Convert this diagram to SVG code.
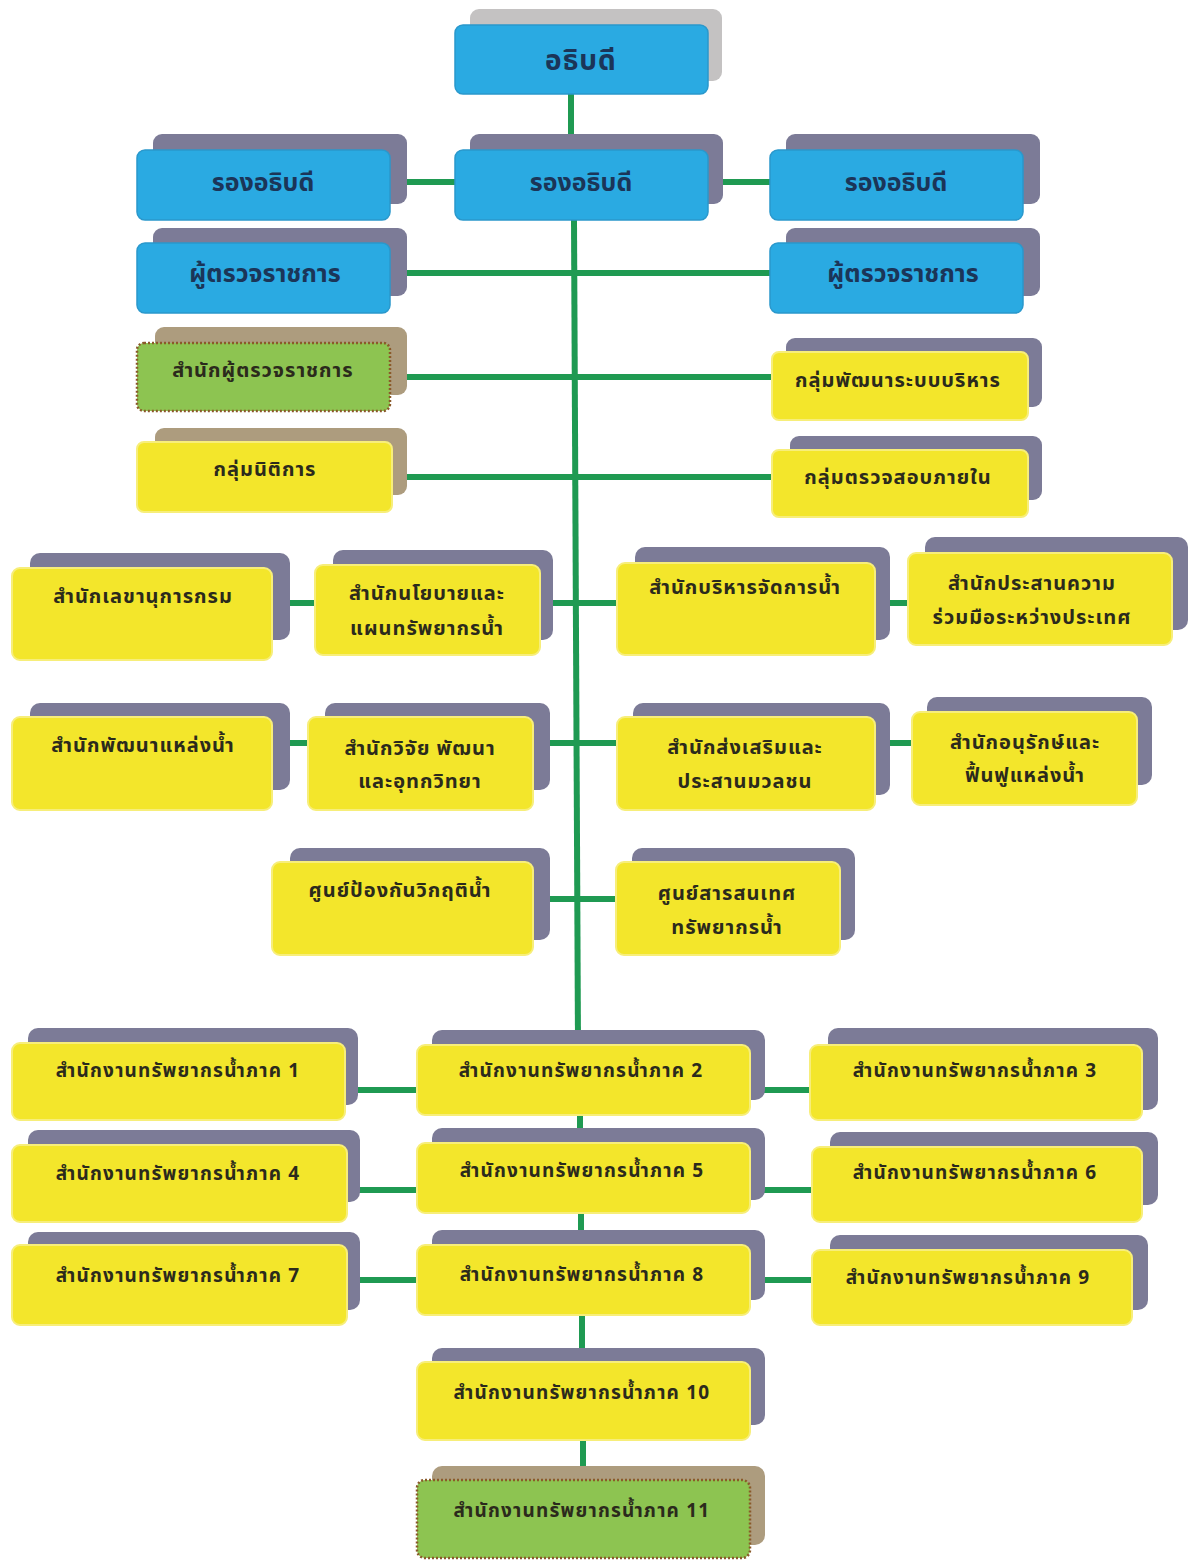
<svg xmlns="http://www.w3.org/2000/svg" width="1194" height="1562" viewBox="0 0 1194 1562">
<defs>
<style>
.bg{fill:#ffffff}
.sh{fill:#7c7b97}
.shg{fill:#c4c2c2}
.shb{fill:#ad9c7e}
.blue{fill:#2aaae2;stroke:#2a98cc;stroke-width:1.5}
.yel{fill:#f3e62b;stroke:#f7ee7a;stroke-width:2}
.grn{fill:#8dc451;stroke:#8a5a2a;stroke-width:2.5;stroke-dasharray:2 2}
.tb{font-family:"Noto Sans Thai","Noto Sans","DejaVu Sans",sans-serif;font-weight:bold;font-size:25px;fill:#1b3558;text-anchor:middle}
.tb1{font-size:28px;letter-spacing:1px}
.ty{font-family:"Noto Sans Thai","Noto Sans","DejaVu Sans",sans-serif;font-weight:bold;font-size:20px;letter-spacing:1px;fill:#2b2a1c;text-anchor:middle}
.tr{font-family:"Noto Sans Thai","Noto Sans","DejaVu Sans",sans-serif;font-weight:bold;font-size:19px;letter-spacing:1.2px;fill:#2b2a1c;text-anchor:middle}
.ln{stroke:#1f9a52;stroke-width:6;fill:none}
</style>
</defs>
<rect class="bg" x="0" y="0" width="1194" height="1562"/>

<g id="connectors">
<line class="ln" x1="571" y1="93" x2="571" y2="152"/>
<line class="ln" x1="574" y1="220" x2="578" y2="1045"/>
<line class="ln" x1="390" y1="182" x2="455" y2="182"/>
<line class="ln" x1="708" y1="182" x2="770" y2="182"/>
<line class="ln" x1="390" y1="273" x2="770" y2="273"/>
<line class="ln" x1="390" y1="377" x2="772" y2="377"/>
<line class="ln" x1="392" y1="477" x2="772" y2="477"/>
<line class="ln" x1="272" y1="603" x2="315" y2="603"/>
<line class="ln" x1="540" y1="603" x2="617" y2="603"/>
<line class="ln" x1="875" y1="603" x2="908" y2="603"/>
<line class="ln" x1="272" y1="743" x2="308" y2="743"/>
<line class="ln" x1="533" y1="743" x2="617" y2="743"/>
<line class="ln" x1="875" y1="743" x2="912" y2="743"/>
<line class="ln" x1="533" y1="899" x2="616" y2="899"/>
<line class="ln" x1="345" y1="1090" x2="417" y2="1090"/>
<line class="ln" x1="750" y1="1090" x2="810" y2="1090"/>
<line class="ln" x1="345" y1="1190" x2="417" y2="1190"/>
<line class="ln" x1="750" y1="1190" x2="812" y2="1190"/>
<line class="ln" x1="345" y1="1280" x2="417" y2="1280"/>
<line class="ln" x1="750" y1="1280" x2="812" y2="1280"/>
<line class="ln" x1="580" y1="1115" x2="580" y2="1145"/>
<line class="ln" x1="581" y1="1212" x2="581" y2="1245"/>
<line class="ln" x1="582" y1="1315" x2="582" y2="1362"/>
<line class="ln" x1="583" y1="1440" x2="583" y2="1480"/>
</g>

<g id="n-director">
<rect class="shg" x="470" y="9" width="252" height="72" rx="9"/>
<rect class="blue" x="455" y="25" width="253" height="69" rx="8"/>
<text class="tb tb1" x="581" y="70">อธิบดี</text>
</g>

<g id="n-deputy-left">
<rect class="sh" x="153" y="134" width="254" height="70" rx="9"/>
<rect class="blue" x="137" y="150" width="253" height="70" rx="8"/>
<text class="tb" x="263" y="191">รองอธิบดี</text>
</g>
<g id="n-deputy-mid">
<rect class="sh" x="470" y="134" width="253" height="70" rx="9"/>
<rect class="blue" x="455" y="150" width="253" height="70" rx="8"/>
<text class="tb" x="581" y="191">รองอธิบดี</text>
</g>
<g id="n-deputy-right">
<rect class="sh" x="786" y="134" width="254" height="70" rx="9"/>
<rect class="blue" x="770" y="150" width="253" height="70" rx="8"/>
<text class="tb" x="896" y="191">รองอธิบดี</text>
</g>

<g id="n-inspector-left">
<rect class="sh" x="153" y="228" width="254" height="68" rx="9"/>
<rect class="blue" x="137" y="243" width="253" height="70" rx="8"/>
<text class="tb" x="265" y="282">ผู้ตรวจราชการ</text>
</g>
<g id="n-inspector-right">
<rect class="sh" x="786" y="228" width="254" height="68" rx="9"/>
<rect class="blue" x="770" y="243" width="253" height="70" rx="8"/>
<text class="tb" x="903" y="282">ผู้ตรวจราชการ</text>
</g>

<g id="n-inspector-office">
<rect class="shb" x="155" y="327" width="252" height="68" rx="9"/>
<rect class="grn" x="137" y="343" width="253" height="68" rx="7"/>
<text class="ty" x="263" y="377">สำนักผู้ตรวจราชการ</text>
</g>
<g id="n-admin-dev">
<rect class="sh" x="786" y="338" width="256" height="69" rx="9"/>
<rect class="yel" x="772" y="352" width="256" height="68" rx="7"/>
<text class="ty" x="898" y="387">กลุ่มพัฒนาระบบบริหาร</text>
</g>

<g id="n-legal">
<rect class="shb" x="155" y="428" width="252" height="67" rx="9"/>
<rect class="yel" x="137" y="442" width="255" height="70" rx="7"/>
<text class="ty" x="265" y="476">กลุ่มนิติการ</text>
</g>
<g id="n-audit">
<rect class="sh" x="790" y="436" width="252" height="64" rx="9"/>
<rect class="yel" x="772" y="450" width="256" height="67" rx="7"/>
<text class="ty" x="898" y="484">กลุ่มตรวจสอบภายใน</text>
</g>

<g id="n-secretariat">
<rect class="sh" x="30" y="553" width="260" height="87" rx="10"/>
<rect class="yel" x="12" y="568" width="260" height="92" rx="8"/>
<text class="ty" x="143" y="603">สำนักเลขานุการกรม</text>
</g>
<g id="n-policy">
<rect class="sh" x="333" y="550" width="220" height="90" rx="10"/>
<rect class="yel" x="315" y="565" width="225" height="90" rx="8"/>
<text class="ty" x="427" y="600">สำนักนโยบายและ</text>
<text class="ty" x="427" y="635">แผนทรัพยากรน้ำ</text>
</g>
<g id="n-water-mgmt">
<rect class="sh" x="635" y="547" width="255" height="93" rx="10"/>
<rect class="yel" x="617" y="563" width="258" height="92" rx="8"/>
<text class="ty" x="745" y="594">สำนักบริหารจัดการน้ำ</text>
</g>
<g id="n-intl">
<rect class="sh" x="925" y="537" width="263" height="93" rx="10"/>
<rect class="yel" x="908" y="553" width="264" height="92" rx="8"/>
<text class="ty" x="1032" y="590">สำนักประสานความ</text>
<text class="ty" x="1032" y="624">ร่วมมือระหว่างประเทศ</text>
</g>

<g id="n-water-source-dev">
<rect class="sh" x="30" y="703" width="260" height="87" rx="10"/>
<rect class="yel" x="12" y="717" width="260" height="93" rx="8"/>
<text class="ty" x="143" y="752">สำนักพัฒนาแหล่งน้ำ</text>
</g>
<g id="n-research">
<rect class="sh" x="325" y="703" width="225" height="87" rx="10"/>
<rect class="yel" x="308" y="717" width="225" height="93" rx="8"/>
<text class="ty" x="420" y="755">สำนักวิจัย พัฒนา</text>
<text class="ty" x="420" y="788">และอุทกวิทยา</text>
</g>
<g id="n-promotion">
<rect class="sh" x="633" y="703" width="257" height="92" rx="10"/>
<rect class="yel" x="617" y="717" width="258" height="93" rx="8"/>
<text class="ty" x="745" y="754">สำนักส่งเสริมและ</text>
<text class="ty" x="745" y="788">ประสานมวลชน</text>
</g>
<g id="n-conservation">
<rect class="sh" x="927" y="697" width="225" height="88" rx="10"/>
<rect class="yel" x="912" y="712" width="225" height="93" rx="8"/>
<text class="ty" x="1025" y="749">สำนักอนุรักษ์และ</text>
<text class="ty" x="1025" y="782">ฟื้นฟูแหล่งน้ำ</text>
</g>

<g id="n-crisis">
<rect class="sh" x="290" y="848" width="260" height="92" rx="10"/>
<rect class="yel" x="272" y="862" width="261" height="93" rx="8"/>
<text class="ty" x="400" y="897">ศูนย์ป้องกันวิกฤติน้ำ</text>
</g>
<g id="n-info">
<rect class="sh" x="632" y="848" width="223" height="92" rx="10"/>
<rect class="yel" x="616" y="862" width="224" height="93" rx="8"/>
<text class="ty" x="727" y="900">ศูนย์สารสนเทศ</text>
<text class="ty" x="727" y="934">ทรัพยากรน้ำ</text>
</g>

<g id="n-r1">
<rect class="sh" x="28" y="1028" width="330" height="77" rx="10"/>
<rect class="yel" x="12" y="1043" width="333" height="77" rx="8"/>
<text class="tr" x="178" y="1077">สำนักงานทรัพยากรน้ำภาค 1</text>
</g>
<g id="n-r2">
<rect class="sh" x="432" y="1030" width="333" height="70" rx="10"/>
<rect class="yel" x="417" y="1045" width="333" height="70" rx="8"/>
<text class="tr" x="581" y="1077">สำนักงานทรัพยากรน้ำภาค 2</text>
</g>
<g id="n-r3">
<rect class="sh" x="828" y="1028" width="330" height="82" rx="10"/>
<rect class="yel" x="810" y="1045" width="332" height="75" rx="8"/>
<text class="tr" x="975" y="1077">สำนักงานทรัพยากรน้ำภาค 3</text>
</g>
<g id="n-r4">
<rect class="sh" x="28" y="1130" width="332" height="72" rx="10"/>
<rect class="yel" x="12" y="1145" width="335" height="77" rx="8"/>
<text class="tr" x="178" y="1180">สำนักงานทรัพยากรน้ำภาค 4</text>
</g>
<g id="n-r5">
<rect class="sh" x="432" y="1128" width="333" height="72" rx="10"/>
<rect class="yel" x="417" y="1143" width="333" height="70" rx="8"/>
<text class="tr" x="582" y="1177">สำนักงานทรัพยากรน้ำภาค 5</text>
</g>
<g id="n-r6">
<rect class="sh" x="830" y="1132" width="328" height="73" rx="10"/>
<rect class="yel" x="812" y="1147" width="330" height="75" rx="8"/>
<text class="tr" x="975" y="1179">สำนักงานทรัพยากรน้ำภาค 6</text>
</g>
<g id="n-r7">
<rect class="sh" x="28" y="1232" width="332" height="78" rx="10"/>
<rect class="yel" x="12" y="1245" width="335" height="80" rx="8"/>
<text class="tr" x="178" y="1282">สำนักงานทรัพยากรน้ำภาค 7</text>
</g>
<g id="n-r8">
<rect class="sh" x="432" y="1230" width="333" height="70" rx="10"/>
<rect class="yel" x="417" y="1245" width="333" height="70" rx="8"/>
<text class="tr" x="582" y="1281">สำนักงานทรัพยากรน้ำภาค 8</text>
</g>
<g id="n-r9">
<rect class="sh" x="830" y="1235" width="318" height="75" rx="10"/>
<rect class="yel" x="812" y="1250" width="320" height="75" rx="8"/>
<text class="tr" x="968" y="1284">สำนักงานทรัพยากรน้ำภาค 9</text>
</g>
<g id="n-r10">
<rect class="sh" x="432" y="1348" width="333" height="77" rx="10"/>
<rect class="yel" x="417" y="1362" width="333" height="78" rx="8"/>
<text class="tr" x="582" y="1399">สำนักงานทรัพยากรน้ำภาค 10</text>
</g>
<g id="n-r11">
<rect class="shb" x="432" y="1466" width="333" height="79" rx="10"/>
<rect class="grn" x="417" y="1480" width="333" height="78" rx="8"/>
<text class="tr" x="582" y="1517">สำนักงานทรัพยากรน้ำภาค 11</text>
</g>
</svg>
